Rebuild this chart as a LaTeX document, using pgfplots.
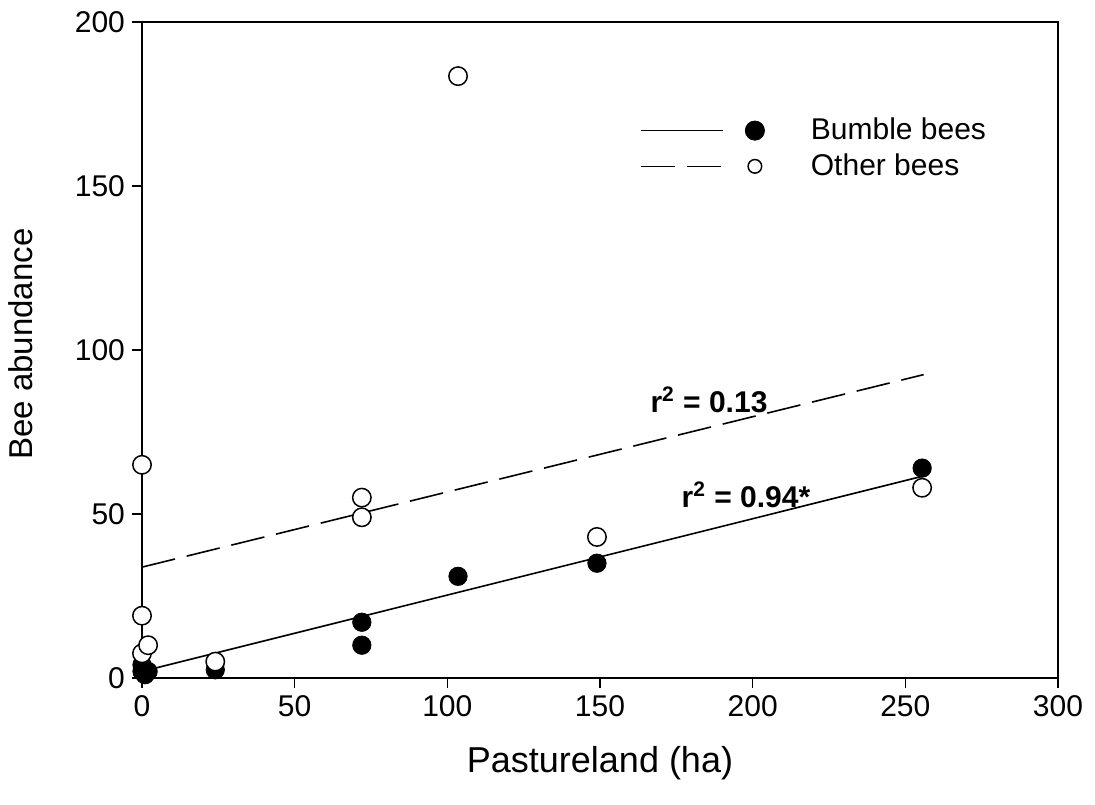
\documentclass[border=0pt]{standalone}
\usepackage{fontspec}
\setmainfont{Liberation Sans}
\usepackage{pgfplots}
\pgfplotsset{compat=1.18}
\pgfplotsset{
 bumbleleg/.style={legend image code/.code={\draw[black,solid,line width=0.8pt] (0pt,0pt) -- (41pt,0pt);
    \draw[##1, mark size=4.8pt] plot coordinates {(57pt,0pt)}; \path[draw=none] (0pt,0pt) -- (83pt,0pt);}},
 otherleg/.style={legend image code/.code={\draw[black,line width=0.8pt, dash pattern=on 17pt off 6pt] (0pt,0pt) -- (41pt,0pt);
    \draw[##1, mark size=3.4pt] plot coordinates {(57pt,0pt)}; \path[draw=none] (0pt,0pt) -- (83pt,0pt);}},
}
\begin{document}
\begin{tikzpicture}
\path[use as bounding box] (0,0) rectangle (547.5pt,402pt);
\begin{axis}[
 at={(71pt,63pt)}, anchor=south west,
 scale only axis, width=458pt, height=328pt,
 xmin=0, xmax=300, ymin=0, ymax=200,
 xtick={0,50,...,300}, ytick={0,50,...,200},
 tick align=outside, tick pos=left,
 major tick length=5pt,
 tick style={black, line width=0.6pt},
 axis line style={line width=0.7pt},
 ticklabel style={font=\fontsize{15}{18}\selectfont},
 /pgf/number format/assume math mode=true,
 xlabel={Pastureland (ha)}, ylabel={Bee abundance},
 xlabel style={font=\fontsize{18}{21}\selectfont, at={(axis description cs:0.5,-0.13)}, anchor=center},
 ylabel style={font=\fontsize{16.5}{20}\selectfont, at={(axis description cs:-0.132,0.509)}, anchor=center},
 clip=false,
 legend cell align=left,
 legend style={draw=none, fill=none, at={(axis cs:163,172)}, anchor=north west,
   inner sep=0pt, row sep=1.5pt, font=\fontsize{15}{18}\selectfont},
]
% regression lines
\addplot[black, line width=0.8pt, forget plot] coordinates {(0,2) (256,61.6)};
\addplot[black, line width=0.8pt, dash pattern=on 17pt off 6pt, forget plot] coordinates {(0,33.8) (256,92.5)};
% bumble bees
\addplot[only marks, mark=*, mark size=4.6pt, mark options={fill=black, draw=black}, bumbleleg]
 coordinates {(0,2) (1,1) (2,2) (0,4) (24,2.5) (72,17) (72,10) (103.5,31) (149,35) (255.5,64)};
\addlegendentry{Bumble bees}
% other bees
\addplot[only marks, mark=*, mark size=4.6pt, mark options={fill=white, draw=black, line width=0.75pt}, otherleg]
 coordinates {(0,65) (0,19) (0,7.5) (2,10) (24,5) (72,55) (72,49) (103.5,183.5) (149,43) (255.5,58)};
\addlegendentry{Other bees}
\node[font=\bfseries\fontsize{15}{18}\selectfont] at (axis cs:185.7,84.8) {r\textsuperscript{2} = 0.13};
\node[font=\bfseries\fontsize{15}{18}\selectfont] at (axis cs:197.8,55.8) {r\textsuperscript{2} = 0.94*};
\end{axis}
\end{tikzpicture}
\end{document}
